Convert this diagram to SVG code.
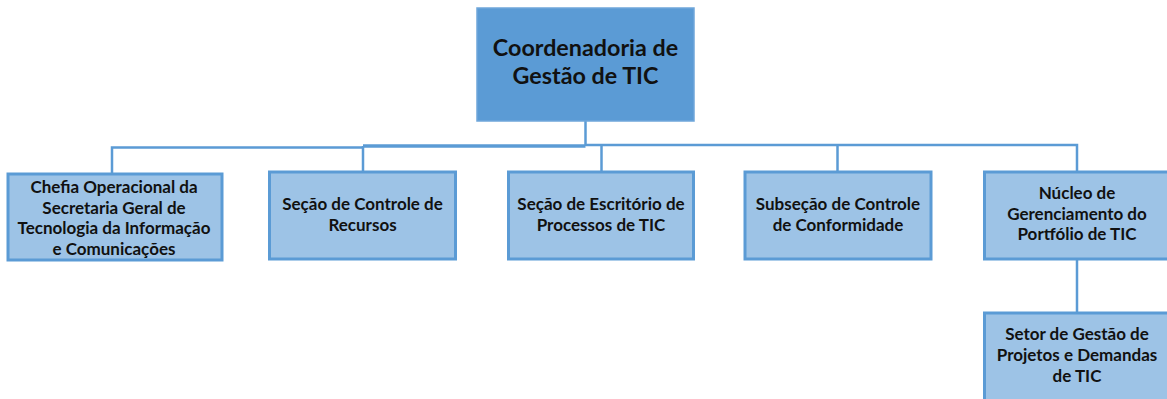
<svg xmlns="http://www.w3.org/2000/svg" width="1167" height="399" viewBox="0 0 1167 399">
<style>
.top{fill:#5B9BD5;stroke:#6FA6DA;stroke-width:1.5}
.box{fill:#9DC3E6;stroke:#5B9BD5;stroke-width:3}
.c{fill:none;stroke:#5B9BD5;stroke-width:2.5}
text{font-family:Lato,"Liberation Sans",sans-serif;font-weight:bold;fill:#111;text-anchor:middle}
.t1{font-size:23.3px}
.t2{font-size:17px}
</style>
<rect width="1167" height="399" fill="#fff"/>
<g id="connectors">
<path class="c" d="M585.5,121 V146"/>
<path class="c" d="M112,174 V147.5 H363"/>
<path class="c" d="M363,146 H585.5" style="stroke-width:3.5"/>
<path class="c" d="M363,146 V172"/>
<path class="c" d="M585.5,145 H1077 V172"/>
<path class="c" d="M601.5,145 V172"/>
<path class="c" d="M837.5,145 V172"/>
<path class="c" d="M1077,259 V313"/>
</g>
<g id="n-coord">
<rect class="top" x="477" y="8" width="217" height="113"/>
<text class="t1" x="585.5" y="56">Coordenadoria de</text>
<text class="t1" x="585.5" y="84">Gestão de TIC</text>
</g>
<g id="n-chefia">
<rect class="box" x="8" y="174" width="214" height="86"/>
<text class="t2" x="114" y="193">Chefia Operacional da</text>
<text class="t2" x="114" y="213.5">Secretaria Geral de</text>
<text class="t2" x="114" y="234">Tecnologia da Informação</text>
<text class="t2" x="114" y="254.5">e Comunicações</text>
</g>
<g id="n-recursos">
<rect class="box" x="269.5" y="172" width="186" height="87"/>
<text class="t2" x="362.5" y="210">Seção de Controle de</text>
<text class="t2" x="362.5" y="231">Recursos</text>
</g>
<g id="n-escritorio">
<rect class="box" x="508.5" y="172" width="185" height="87"/>
<text class="t2" x="601" y="210">Seção de Escritório de</text>
<text class="t2" x="601" y="231">Processos de TIC</text>
</g>
<g id="n-conformidade">
<rect class="box" x="745" y="172" width="186" height="87"/>
<text class="t2" x="838" y="210">Subseção de Controle</text>
<text class="t2" x="838" y="231">de Conformidade</text>
</g>
<g id="n-nucleo">
<rect class="box" x="984.5" y="172" width="190" height="87"/>
<text class="t2" x="1077" y="199">Núcleo de</text>
<text class="t2" x="1077" y="219.5">Gerenciamento do</text>
<text class="t2" x="1077" y="240">Portfólio de TIC</text>
</g>
<g id="n-setor">
<rect class="box" x="984.5" y="313" width="190" height="95"/>
<text class="t2" x="1077" y="340">Setor de Gestão de</text>
<text class="t2" x="1077" y="361">Projetos e Demandas</text>
<text class="t2" x="1077" y="382">de TIC</text>
</g>
</svg>
